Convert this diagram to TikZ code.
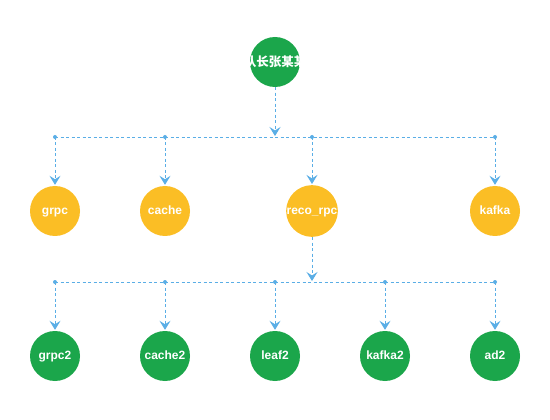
\documentclass[tikz,border=0pt]{standalone}
\usepackage{fontspec}
\setmainfont{Liberation Sans}
\newfontfamily\cjk{Noto Sans CJK SC}
\usetikzlibrary{arrows.meta}
\definecolor{ngreen}{HTML}{1BA64B}
\definecolor{norange}{HTML}{FBBE25}
\definecolor{lblue}{HTML}{5AAEE6}
\tikzset{
  circ/.style={circle, minimum size=50pt, inner sep=0pt, text=white, text height=9pt, text depth=2pt, font=\bfseries\fontsize{12}{14}\selectfont},
  gnode/.style={circ, fill=ngreen},
  onode/.style={circ, fill=norange},
  conn/.style={draw=lblue, line width=0.9pt, dash pattern=on 3pt off 2.5pt},
  arr/.style={conn, -{Stealth[length=9pt,width=11pt,inset=3.5pt]}, shorten >=1pt},
  jdot/.style={circle, fill=lblue, inner sep=0pt, minimum size=4pt}
}
\begin{document}
\begin{tikzpicture}[x=1pt,y=-1pt]
\fill[white] (0,0) rectangle (550,420);
\useasboundingbox (0,0) rectangle (550,420);
% nodes
\node[gnode] (root) at (275,62) {};
\begin{scope}
  \clip (250,40) rectangle (300,85);
  \node[text=white, text height=9pt, text depth=2pt, font=\bfseries\fontsize{12.5}{14}\selectfont] (rootlabel) at (275,63) {\cjk\bfseries 队长张某某};
\end{scope}
\node[onode] (grpc) at (55,211) {grpc};
\node[onode] (cache) at (165,211) {cache};
\node[onode] (reco) at (312,211) {reco\_rpc};
\node[onode] (kafka) at (495,211) {kafka};
\node[gnode] (grpc2) at (55,356) {grpc2};
\node[gnode] (cache2) at (165,356) {cache2};
\node[gnode] (leaf2) at (275,356) {leaf2};
\node[gnode] (kafka2) at (385,356) {kafka2};
\node[gnode] (ad2) at (495,356) {ad2};
% junctions
\coordinate (j0) at (275,137);
\coordinate (b1) at (55,137);
\coordinate (b2) at (165,137);
\coordinate (b3) at (312,137);
\coordinate (b4) at (495,137);
\coordinate (j1) at (312,282);
\coordinate (c1) at (55,282);
\coordinate (c2) at (165,282);
\coordinate (c3) at (275,282);
\coordinate (c4) at (385,282);
\coordinate (c5) at (495,282);
% connectors
\draw[conn] (b1) -- (b4);
\draw[conn] (c1) -- (c5);
\draw[arr] (root) -- (j0);
\draw[arr] (reco) -- (j1);
\foreach \a/\b in {b1/grpc,b2/cache,b3/reco,b4/kafka,c1/grpc2,c2/cache2,c3/leaf2,c4/kafka2,c5/ad2}{
  \draw[arr] (\a) -- (\b);
  \node[jdot] at (\a) {};
}
\end{tikzpicture}
\end{document}
